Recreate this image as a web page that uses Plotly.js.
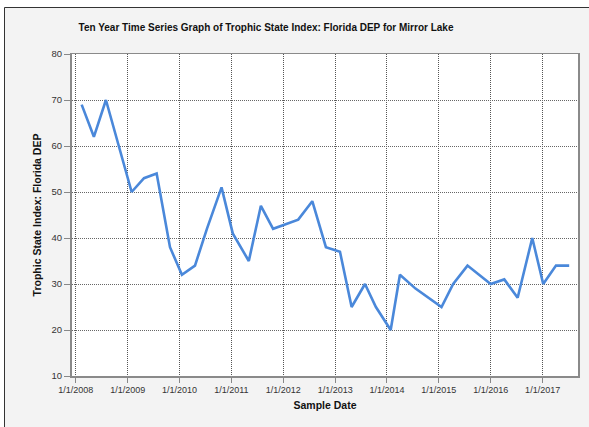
<!DOCTYPE html>
<html>
<head>
<meta charset="utf-8">
<script src="https://cdn.plot.ly/plotly-3.0.1.min.js"></script>
<style>
html,body{margin:0;padding:0;background:#ffffff;}
#chart{width:589px;height:427px;}
</style>
</head>
<body>
<div id="chart"></div>
<script>
// Sample dates and Trophic State Index values
const sampleDates = [
  "2008-02-12","2008-05-08","2008-08-01","2009-01-29","2009-04-26","2009-07-24",
  "2009-10-26","2010-01-18","2010-04-20","2010-07-13","2010-10-24","2011-01-11",
  "2011-05-04","2011-07-28","2011-10-22","2012-01-20","2012-04-16","2012-07-24",
  "2012-10-28","2013-02-04","2013-04-27","2013-07-30","2013-10-15","2014-01-27",
  "2014-04-02","2014-07-21","2014-10-18","2015-01-20","2015-04-12","2015-07-22",
  "2016-01-01","2016-04-06","2016-07-09","2016-10-20","2017-01-05","2017-04-05",
  "2017-07-07"
];
const tsiValues = [
  69, 62, 70, 50, 53, 54,
  38, 32, 34, 42, 51, 41,
  35, 47, 42, 43, 44, 48,
  38, 37, 25, 30, 25, 20,
  32, 29, 27, 25, 30, 34,
  30, 31, 27, 40, 30, 34,
  34
];
const chartTitle = "Ten Year Time Series Graph of Trophic State Index: Florida DEP for Mirror Lake";
const xTitle = "Sample Date";
const yTitle = "Trophic State Index: Florida DEP";

const FONT = "'Liberation Sans', Arial, sans-serif";

// plot area pixel geometry
const L = 72, R = 11, T = 54, B = 51, W = 589, H = 427;
const pw = W - L - R, ph = H - T - B;
function px(x){ return (x - L) / pw; }
function py(y){ return (H - B - y) / ph; }

const trace = {
  x: sampleDates,
  y: tsiValues,
  type: "scatter",
  mode: "lines",
  line: {color: "#4A88DA", width: 2.6},
  hoverinfo: "x+y"
};

const layout = {
  width: W, height: H,
  margin: {l: L, r: R, t: T, b: B, pad: 0},
  paper_bgcolor: "#f3f3f3",
  plot_bgcolor: "#ffffff",
  showlegend: false,
  font: {family: FONT, size: 9, color: "#333333"},
  title: {
    text: chartTitle,
    font: {family: FONT, size: 10, color: "#111111", weight: "bold"},
    xref: "container", yref: "container",
    x: 266 / W, xanchor: "center",
    y: 1 - 27 / H, yanchor: "middle"
  },
  xaxis: {
    type: "date",
    range: ["2007-12-06", "2017-09-07"],
    tick0: "2008-01-01",
    dtick: "M12",
    tickformat: "%-m/%-d/%Y",
    ticks: "outside", ticklen: 5, tickcolor: "#888888", tickwidth: 1,
    showgrid: true, gridcolor: "#555555", gridwidth: 1, griddash: "1px,1px",
    showline: true, linecolor: "#8a8a8a", linewidth: 1.5, mirror: true,
    zeroline: false,
    tickfont: {family: FONT, size: 9, color: "#333333"},
    title: {text: xTitle, font: {family: FONT, size: 10.5, color: "#111111", weight: "bold"}, standoff: 7},
    automargin: false
  },
  yaxis: {
    range: [10, 80],
    tick0: 10, dtick: 10,
    ticks: "outside", ticklen: 6, tickcolor: "#888888", tickwidth: 1,
    showgrid: true, gridcolor: "#666666", gridwidth: 1, griddash: "1px,1px",
    showline: true, linecolor: "#8a8a8a", linewidth: 2, mirror: true,
    zeroline: false,
    tickfont: {family: FONT, size: 9.5, color: "#333333"},
    title: {text: yTitle, font: {family: FONT, size: 10.5, color: "#111111", weight: "bold"}, standoff: 8},
    automargin: false
  },
  shapes: [
    {type: "rect", xref: "paper", yref: "paper", layer: "below",
     x0: px(-5), x1: px(4), y0: py(-5), y1: py(H + 5),
     fillcolor: "#ffffff", line: {width: 0}},
    {type: "rect", xref: "paper", yref: "paper", layer: "below",
     x0: px(-5), x1: px(W + 5), y0: py(-5), y1: py(7),
     fillcolor: "#ffffff", line: {width: 0}},
    {type: "rect", xref: "paper", yref: "paper", layer: "above",
     x0: px(4.5), x1: px(W + 10), y0: py(H + 10), y1: py(7.5),
     fillcolor: "rgba(0,0,0,0)", line: {color: "#333333", width: 1}}
  ]
};

Plotly.newPlot("chart", [trace], layout, {displayModeBar: false, staticPlot: true});
</script>
</body>
</html>
